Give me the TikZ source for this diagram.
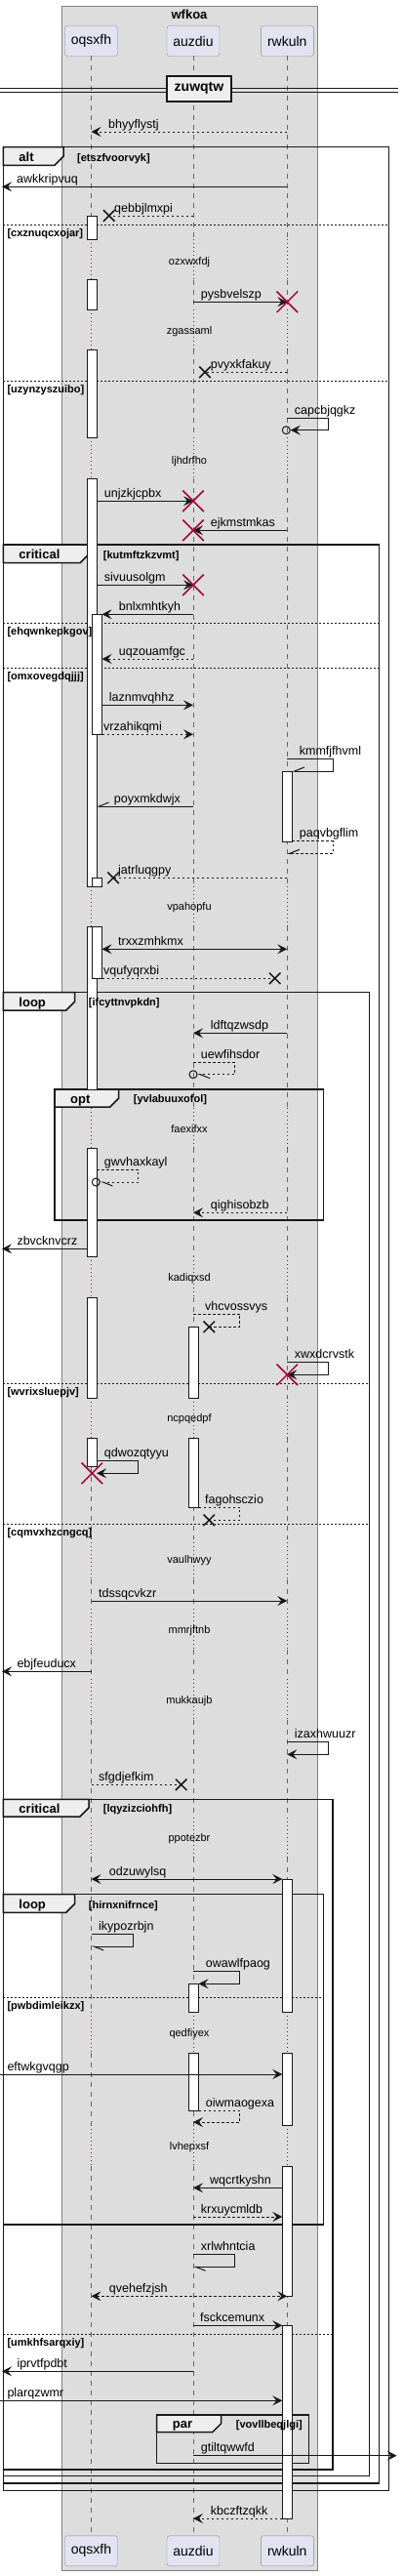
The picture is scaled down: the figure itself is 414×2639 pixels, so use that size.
\documentclass[tikz,border=0pt]{standalone}
\usepackage{fontspec}
\setmainfont{Liberation Sans}
\usetikzlibrary{arrows.meta,shapes.misc}

\definecolor{boxgray}{RGB}{221,221,221}
\definecolor{partfill}{RGB}{226,226,240}
\definecolor{tabfill}{RGB}{238,238,238}
\definecolor{delayred}{RGB}{168,0,54}
\definecolor{ink}{RGB}{24,24,24}

\tikzset{
  part/.style={draw=black!45, fill=partfill, rounded corners=2.5pt, minimum width=54pt, minimum height=31pt, font=\fontsize{14}{16}\selectfont},
  life/.style={draw=black!60, line width=0.8pt, dash pattern=on 5pt off 5pt},
  delay/.style={draw=delayred, line width=0.8pt, dash pattern=on 1pt off 3pt},
  actbar/.style={draw=ink, fill=white, line width=1pt},
  msg/.style={draw=ink, line width=1pt},
  reply/.style={msg, dash pattern=on 2.5pt off 2.5pt},
  head/.style={-{Stealth[length=10pt,width=10pt,inset=4pt]}},
  heads/.style={{Stealth[length=10pt,width=10pt,inset=4pt]}-{Stealth[length=10pt,width=10pt,inset=4pt]}},
  barbup/.style={-{Straight Barb[harpoon,swap,length=10pt,width=8pt]}},
  barbdown/.style={-{Straight Barb[harpoon,length=10pt,width=8pt]}},
  lbl/.style={anchor=base west, inner sep=0pt, font=\fontsize{12.5}{14}\selectfont},
  delaytxt/.style={anchor=base, inner sep=0pt, font=\fontsize{11}{13}\selectfont},
  frame/.style={draw=ink, line width=1.5pt},
  tab/.style={draw=ink, fill=tabfill, line width=1.5pt},
  tabtxt/.style={anchor=base west, inner sep=0pt, font=\bfseries\fontsize{13}{15}\selectfont},
  cond/.style={anchor=base west, inner sep=0pt, font=\bfseries\fontsize{11}{13}\selectfont},
  elseline/.style={draw=ink, line width=0.8pt, dash pattern=on 2pt off 2pt},
  lost/.style={draw=ink, cross out, minimum size=10pt, inner sep=0pt, line width=1.5pt},
  kill/.style={draw=delayred, cross out, minimum size=20pt, inner sep=0pt, line width=1.5pt},
  endcirc/.style={draw=ink, circle, minimum size=8pt, inner sep=0pt, line width=1pt},
}

\begin{document}
\begin{tikzpicture}[x=1pt,y=-1pt]
\useasboundingbox (0,0) rectangle (414,2639);
%% the grey box round the three participants
\draw[draw=black!50, fill=boxgray] (62.7,6) rectangle (325.3,2633);
\node[font=\bfseries\fontsize{13}{15}\selectfont] (wfkoa) at (194,15) {wfkoa};
\node[part] (oqsxfh) at (93.5,42) {oqsxfh};
\node[part] (auzdiu) at (198,42) {auzdiu};
\node[part] (rwkuln) at (294.3,42) {rwkuln};
\node[part] (oqsxfhB) at (93.5,2613.3) {oqsxfh};
\node[part] (auzdiuB) at (198,2613.3) {auzdiu};
\node[part] (rwkulnB) at (294.3,2613.3) {rwkuln};
%% fixed x positions: bar edges and the borders of the page
\coordinate (west0) at (0,0);
\coordinate (west) at (2,0);
\coordinate (east) at (406.7,0);
\coordinate (oqL) at (89,0);
\coordinate (oqR) at (99,0);
\coordinate (oqN) at (104.5,0);
\coordinate (auR) at (203.5,0);
\coordinate (rwL) at (289.3,0);
\coordinate (rwR) at (299.3,0);
%% lifelines, dashed between the delays
\foreach \p in {oqsxfh,auzdiu,rwkuln}{
  \foreach \ya/\yb in {57.5/245.3, 286.7/317.3, 358.3/448, 490/908, 949/1135, 1176/1287.3, 1329.3/1432.3, 1473.3/1576, 1618/1648, 1690/1720, 1762/1862, 1903/2061, 2103.3/2177.3, 2219/2597.5}
    \draw[life] (\p |- 0,\ya) -- (\p |- 0,\yb);
}
%% delays: red dotted lifelines and their text
\foreach \ya/\yb/\t/\ty in {245.3/286.7/ozxwxfdj/267.7, 317.3/358.3/zgassaml/339, 448/490/ljhdrfho/471.7, 908/949/vpahopfu/929.3, 1135/1176/faexifxx/1156.7, 1287.3/1329.3/kadiqxsd/1309.3, 1432.3/1473.3/ncpqedpf/1453.3, 1576/1618/vaulhwyy/1598.3, 1648/1690/mmrjftnb/1670, 1720/1762/mukkaujb/1742.3, 1862/1903/ppotezbr/1883.3, 2061/2103.3/qedfiyex/2083.3, 2177.3/2219/lvhepxsf/2199}{
  \foreach \p in {oqsxfh,auzdiu,rwkuln}
    \draw[delay] (\p |- 0,\ya) -- (\p |- 0,\yb);
  \node[delaytxt] (d-\t) at (194,\ty+3.5) {\t};
}
%% divider
\draw[ink, line width=1pt] (0,90) -- (408,90) (0,94) -- (408,94);
\node[draw=ink, fill=tabfill, line width=2pt, minimum width=66.6pt, minimum height=26.3pt, inner sep=0pt, font=\bfseries\fontsize{14}{16}\selectfont] (zuwqtw) at (204,90.8) {zuwqtw};
%% frames, outer ones first
\foreach \xa/\ya/\xb/\yb/\xt/\yt in {
  3.3/150.7/398.3/2551.3/65/169.3,
  3.3/558/388.3/2544/91/576.7,
  3.3/1016.7/378.3/2536.7/76.7/1035,
  56/1116/331.7/1250/121.7/1134,
  3.3/1843.3/341/2530/91/1861,
  3.3/1940.7/331.7/2279/76.7/1959.3,
  160.7/2474/316.3/2523.3/226.7/2491.7}{
  \draw[frame] (\xa,\ya) rectangle (\xb,\yb);
  \draw[tab] (\xa,\ya) -| (\xt,\yt-9) -- (\xt-9,\yt) -- (\xa,\yt) -- cycle;
}
\foreach \xb/\y in {398.3/230, 398.3/390.7, 388.3/638.3, 388.3/684, 378.3/1417.3, 378.3/1561.3, 331.7/2046, 341/2391.3}
  \draw[elseline] (3.3,\y) -- (\xb,\y);
%% activation bars
\foreach \ya/\yb in {221/245.3, 286.7/317.3, 358.3/448, 490/908, 949/1116, 1176/1287.3, 1329.3/1432.3, 1473.3/1502.3}
  \draw[actbar] (89,\ya) rectangle (99,\yb);
\foreach \ya/\yb in {629.3/752.3, 899.3/908, 949/1002.3}
  \draw[actbar] (94.5,\ya) rectangle (104.5,\yb);
\foreach \ya/\yb in {1359.3/1432.3, 1473.3/1544, 2032.3/2061, 2103.3/2162.3}
  \draw[actbar] (193.5,\ya) rectangle (203.5,\yb);
\foreach \ya/\yb in {790/862, 1925/2061, 2103.3/2177.3, 2219/2352.3, 2382.3/2580}
  \draw[actbar] (289.3,\ya) rectangle (299.3,\yb);
%% frame texts on top of the bars
\foreach \xa/\yt/\kind/\cx/\cond in {3.3/169.3/alt/79/etszfvoorvyk, 3.3/576.7/critical/105.7/kutmftzkzvmt, 3.3/1035/loop/90.7/ifcyttnvpkdn, 56/1134/opt/136.7/yvlabuuxofol, 3.3/1861/critical/105.7/lqyzizciohfh, 3.3/1959.3/loop/90.7/hirnxnifrnce, 160.7/2491.7/par/241.7/vovllbeqjlgi}{
  \node[tabtxt] (tab-\cond) at (\xa+16,\yt-4) {\kind};
  \node[cond] (cond-\cond) at (\cx,\yt-4.3) {[\cond]};
}
\foreach \y/\cond in {230/cxznuqcxojar, 390.7/uzynzyszuibo, 638.3/ehqwnkepkgov, 684/omxovegdqjjj, 1417.3/wvrixsluepjv, 1561.3/cqmvxhzcngcq, 2046/pwbdimleikzx, 2391.3/umkhfsarqxiy}
  \node[cond] (else-\cond) at (7.3,\y+12) {[\cond]};
%% messages
\draw[reply,head] (rwkuln |- 0,135) -- (oqsxfh |- 0,135);
\node[lbl] (m01) at (111,131) {bhyyflystj};
\draw[msg,head] (rwkuln |- 0,191.3) -- (west |- 0,191.3);
\node[lbl] (m02) at (17,187.3) {awkkripvuq};
\node[lost] (x03) at (111.7,221) {};
\draw[reply] (auzdiu |- 0,221) -- (x03.center);
\node[lbl] (m03) at (117,217) {qebbjlmxpi};
\draw[msg,head] (auzdiu |- 0,309.3) -- (rwkuln |- 0,309.3);
\node[kill] (k04) at (rwkuln |- 0,309.3) {};
\node[lbl] (m04) at (205.7,305.3) {pysbvelszp};
\node[lost] (x05) at (210,381.3) {};
\draw[reply] (rwkuln |- 0,381.3) -- (x05.center);
\node[lbl] (m05) at (215.7,377.3) {pvyxkfakuy};
\node[endcirc] (c06) at (293.3,440.7) {};
\draw[msg,head] (rwkuln |- 0,428.7) -| (336.7,440.7) -- (c06.east);
\node[lbl] (m06) at (301.7,424.7) {capcbjqgkz};
\draw[msg,head] (oqR |- 0,513.3) -- (auzdiu |- 0,513.3);
\node[kill] (k07) at (auzdiu |- 0,513.3) {};
\node[lbl] (m07) at (106.7,509.3) {unjzkjcpbx};
\draw[msg,head] (rwkuln |- 0,543.3) -- (auzdiu |- 0,543.3);
\node[kill] (k08) at (auzdiu |- 0,543.3) {};
\node[lbl] (m08) at (215.7,539.3) {ejkmstmkas};
%% critical kutmftzkzvmt
\draw[msg,head] (oqR |- 0,599.3) -- (auzdiu |- 0,599.3);
\node[kill] (k09) at (auzdiu |- 0,599.3) {};
\node[lbl] (m09) at (106.7,595.3) {sivuusolgm};
\draw[msg,head] (auzdiu |- 0,629.3) -- (oqN |- 0,629.3);
\node[lbl] (m10) at (121.7,625.3) {bnlxmhtkyh};
\draw[reply,head] (auzdiu |- 0,675) -- (oqN |- 0,675);
\node[lbl] (m11) at (121.7,671) {uqzouamfgc};
\draw[msg,head] (oqN |- 0,722.3) -- (auzdiu |- 0,722.3);
\node[lbl] (m12) at (111.7,718.3) {laznmvqhhz};
\draw[reply,head] (oqN |- 0,752.3) -- (auzdiu |- 0,752.3);
\node[lbl] (m13) at (106,748.3) {vrzahikqmi};
\draw[msg,barbup] (rwkuln |- 0,777.3) -| (341.3,790) -- (rwR |- 0,790);
\node[lbl] (m14) at (306.7,773.3) {kmmfjfhvml};
\draw[msg,barbup] (auzdiu |- 0,826) -- (oqR |- 0,826);
\node[lbl] (m15) at (116.7,822) {poyxmkdwjx};
\draw[reply,barbup] (rwR |- 0,861.7) -| (341.3,874.3) -- (rwkuln |- 0,874.3);
\node[lbl] (m16) at (306.7,857.7) {paqvbgflim};
\node[lost] (x17) at (116,899.3) {};
\draw[reply] (rwkuln |- 0,899.3) -- (x17.center);
\node[lbl] (m17) at (121,895.3) {jatrluqgpy};
\draw[msg,heads] (oqN |- 0,972.3) -- (rwkuln |- 0,972.3);
\node[lbl] (m18) at (121,968.3) {trxxzmhkmx};
\node[lost] (x19) at (281.7,1002.3) {};
\draw[reply] (oqN |- 0,1002.3) -- (x19.center);
\node[lbl] (m19) at (106,998.3) {vqufyqrxbi};
%% loop ifcyttnvpkdn
\draw[msg,head] (rwkuln |- 0,1058.3) -- (auzdiu |- 0,1058.3);
\node[lbl] (m20) at (215.7,1054.3) {ldftqzwsdp};
\node[endcirc] (c21) at (auzdiu |- 0,1100.7) {};
\draw[reply,barbdown] (auzdiu |- 0,1088.7) -| (240.7,1100.7) -- (c21.east);
\node[lbl] (m21) at (205.7,1084.7) {uewfihsdor};
\node[endcirc] (c22) at (98.3,1211) {};
\draw[reply,barbdown] (oqR |- 0,1198.3) -| (141.7,1211) -- (c22.east);
\node[lbl] (m22) at (106.7,1194.3) {gwvhaxkayl};
\draw[reply,head] (rwkuln |- 0,1242.3) -- (auzdiu |- 0,1242.3);
\node[lbl] (m23) at (215.7,1238.3) {qighisobzb};
\draw[msg,head] (oqL |- 0,1279.3) -- (west |- 0,1279.3);
\node[lbl] (m24) at (17.3,1275.3) {zbvcknvcrz};
\node[lost] (x25) at (214.3,1359.3) {};
\draw[reply] (auzdiu |- 0,1346) -| (245.7,1359.3) -- (x25.center);
\node[lbl] (m25) at (210,1342) {vhcvossvys};
\draw[msg,head] (rwkuln |- 0,1395.7) -| (336.7,1408.3) -- (rwkuln |- 0,1408.3);
\node[kill] (k26) at (rwkuln |- 0,1408.3) {};
\node[lbl] (m26) at (301.7,1391.7) {xwxdcrvstk};
\draw[msg,head] (oqR |- 0,1496.7) -| (141.7,1509.3) -- (oqR |- 0,1509.3);
\node[kill] (k27) at (94.3,1509.3) {};
\node[lbl] (m27) at (106.7,1492.7) {qdwozqtyyu};
\node[lost] (x28) at (214.3,1557.3) {};
\draw[reply] (auR |- 0,1544) -| (245.7,1557.3) -- (x28.center);
\node[lbl] (m28) at (210,1540) {fagohsczio};
\draw[msg,head] (oqsxfh |- 0,1640) -- (rwkuln |- 0,1640);
\node[lbl] (m29) at (101,1636) {tdssqcvkzr};
\draw[msg,head] (oqsxfh |- 0,1712.3) -- (west |- 0,1712.3);
\node[lbl] (m30) at (17.3,1708.3) {ebjfeuducx};
\draw[msg,head] (rwkuln |- 0,1784) -| (336.7,1797.3) -- (rwkuln |- 0,1797.3);
\node[lbl] (m31) at (301.7,1780) {izaxhwuuzr};
\node[lost] (x32) at (185.7,1828.3) {};
\draw[reply] (oqsxfh |- 0,1828.3) -- (x32.center);
\node[lbl] (m32) at (101,1824.3) {sfgdjefkim};
%% critical lqyzizciohfh
\draw[msg,heads] (oqsxfh |- 0,1925) -- (rwL |- 0,1925);
\node[lbl] (m33) at (111.7,1921) {odzuwylsq};
\draw[msg,barbdown] (oqsxfh |- 0,1981.3) -| (136.7,1994) -- (oqsxfh |- 0,1994);
\node[lbl] (m34) at (101,1977.3) {ikypozrbjn};
\draw[msg,head] (auzdiu |- 0,2019.3) -| (245.7,2032.3) -- (auR |- 0,2032.3);
\node[lbl] (m35) at (210.7,2015.3) {owawlfpaog};
\draw[msg,head] (west0 |- 0,2125) -- (rwL |- 0,2125);
\node[lbl] (m36) at (7.3,2121) {eftwkgvqgp};
\draw[reply,head] (auR |- 0,2162.3) -| (245.7,2174) -- (auzdiu |- 0,2174);
\node[lbl] (m37) at (210.7,2158.3) {oiwmaogexa};
\draw[msg,head] (rwL |- 0,2241.3) -- (auzdiu |- 0,2241.3);
\node[lbl] (m38) at (215,2237.3) {wqcrtkyshn};
\draw[reply,head] (auzdiu |- 0,2271) -- (rwL |- 0,2271);
\node[lbl] (m39) at (205.7,2267) {krxuycmldb};
\draw[msg,barbdown] (auzdiu |- 0,2309.3) -| (240.7,2322.3) -- (auzdiu |- 0,2322.3);
\node[lbl] (m40) at (205.7,2305.3) {xrlwhntcia};
\draw[reply,heads] (oqsxfh |- 0,2352.3) -- (rwkuln |- 0,2352.3);
\node[lbl] (m41) at (111.7,2348.3) {qvehefzjsh};
\draw[msg,head] (auzdiu |- 0,2382.3) -- (rwL |- 0,2382.3);
\node[lbl] (m42) at (205,2378.3) {fsckcemunx};
\draw[msg,head] (auzdiu |- 0,2429.3) -- (west |- 0,2429.3);
\node[lbl] (m43) at (17.3,2425.3) {iprvtfpdbt};
\draw[msg,head] (west0 |- 0,2459.3) -- (rwL |- 0,2459.3);
\node[lbl] (m44) at (7.3,2455.3) {plarqzwmr};
\draw[msg,head] (auzdiu |- 0,2515.7) -- (east |- 0,2515.7);
\node[lbl] (m45) at (205.7,2511.7) {gtiltqwwfd};
\draw[reply,head] (rwL |- 0,2580) -- (auzdiu |- 0,2580);
\node[lbl] (m46) at (215.7,2576) {kbczftzqkk};
\end{tikzpicture}
\end{document}
